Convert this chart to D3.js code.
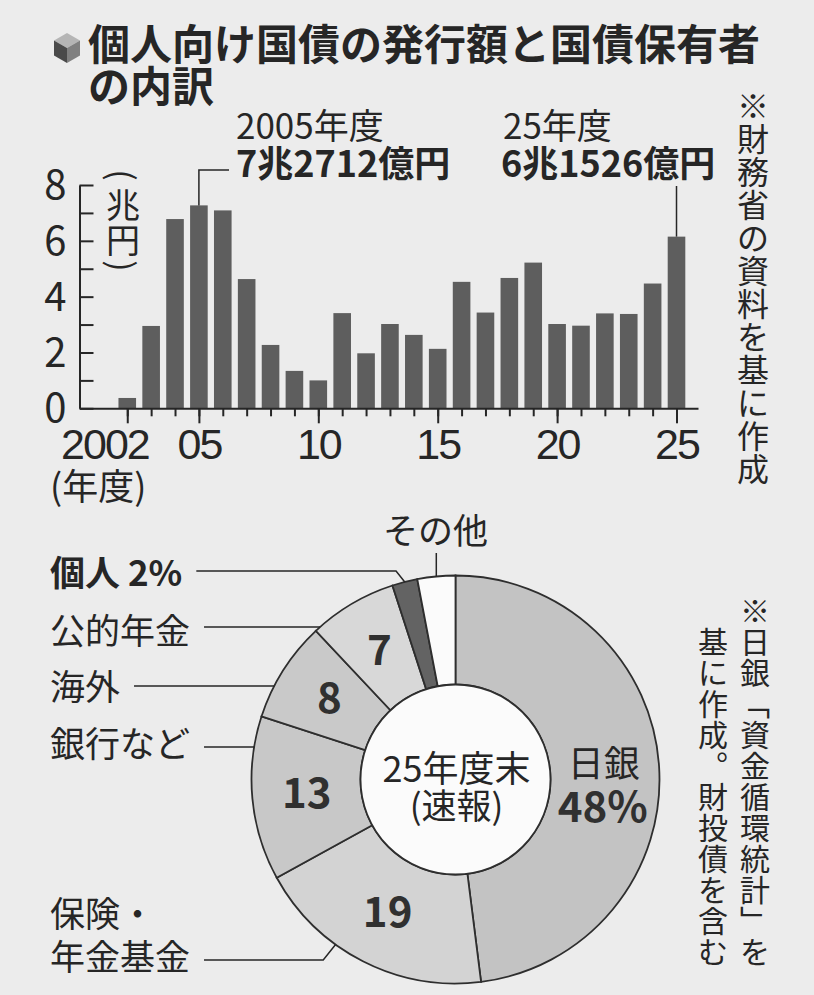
<!DOCTYPE html>
<html>
<head>
<meta charset="utf-8">
<script src="https://cdn.jsdelivr.net/npm/d3@7"></script>
<style>
  html, body { margin: 0; padding: 0; background: #ececec; }
  svg { display: block; font-family: "Noto Sans CJK JP", "Noto Sans", sans-serif; }
</style>
</head>
<body>
<svg id="chart" width="814" height="995"></svg>
<script>
// issuance of retail JGBs per fiscal year (trillion yen)
const years = [2002, 2003, 2004, 2005, 2006, 2007, 2008, 2009, 2010, 2011, 2012, 2013,
               2014, 2015, 2016, 2017, 2018, 2019, 2020, 2021, 2022, 2023, 2024, 2025];
const issuance = [0.37, 2.95, 6.78, 7.27, 7.09, 4.63, 2.27, 1.34, 1.00, 3.41, 1.97, 3.02,
                  2.63, 2.13, 4.53, 3.43, 4.67, 5.22, 3.02, 2.96, 3.40, 3.38, 4.47, 6.15];
const yTicks = [0, 1, 2, 3, 4, 5, 6, 7, 8];
const yLabelTicks = [0, 2, 4, 6, 8];
const majorYears = [2002, 2005, 2010, 2015, 2020, 2025];
const majorLabels = ["2002", "05", "10", "15", "20", "25"];

// holders of JGBs, end of FY2025 (%)
const holderNames = ["日銀", "保険・年金基金", "銀行など", "海外", "公的年金", "個人", "その他"];
const holderShares = [48, 19, 13, 8, 7, 2, 3];
const holderFills = ["#c3c3c3", "#d3d3d3", "#c8c8c8", "#c9c9c9", "#d8d8d8", "#636363", "#fbfbfb"];

const ink = "#262626";
const svg = d3.select("#chart");

// ---- title ----
let icon = svg.append("g").attr("transform", "translate(67,48)");
const s = 15, h = 7.5, w = 13;
icon.append("path").attr("d", `M0,${-s} L${w},${-h} L0,0 L${-w},${-h} Z`).attr("fill", "#b5b5b5");
icon.append("path").attr("d", `M${-w},${-h} L0,0 L0,${s} L${-w},${h} Z`).attr("fill", "#4a4a4a");
icon.append("path").attr("d", `M0,0 L${w},${-h} L${w},${h} L0,${s} Z`).attr("fill", "#808080");

svg.append("text").attr("x", 88).attr("y", 60)
    .style("font-size", "42px").style("font-weight", "bold").attr("fill", ink)
    .text("個人向け国債の発行額と国債保有者");
svg.append("text").attr("x", 88).attr("y", 102)
    .style("font-size", "42px").style("font-weight", "bold").attr("fill", ink)
    .text("の内訳");

// vertical text helper, one glyph per cell
function vtext(str, cx, top, step, size) {
    let g = svg.append("g");
    Array.from(str).forEach((ch, i) => {
        g.append("text")
            .attr("x", cx).attr("y", top + step * i + step / 2)
            .attr("text-anchor", "middle")
            .attr("dominant-baseline", "central")
            .style("font-size", size + "px")
            .attr("fill", ink)
            .text(ch);
    });
    return g;
}

// ---- bar chart ----
const x = d3.scaleLinear().domain([2000, 2025.9]).range([79.5, 698]);
const y = d3.scaleLinear().domain([0, 8]).range([408.3, 185]);

svg.selectAll("rect.bar")
    .data(years)
    .enter().append("rect")
    .attr("class", "bar")
    .attr("x", d => x(d) - 8.8)
    .attr("width", 17.6)
    .attr("y", (d, i) => y(issuance[i]))
    .attr("height", (d, i) => y(0) - y(issuance[i]))
    .attr("fill", "#5e5e5e");

// y axis: ticks point inward, labels only on even values
let yAxis = svg.append("g")
    .attr("transform", `translate(${x(2000)},0)`)
    .call(d3.axisLeft(y).tickValues(yTicks).tickSizeInner(-14).tickSizeOuter(0).tickPadding(13)
        .tickFormat(d => yLabelTicks.includes(d) ? d : ""));
yAxis.select(".domain").attr("stroke", ink).attr("stroke-width", 2);
yAxis.selectAll(".tick line").attr("stroke", ink).attr("stroke-width", 2);
yAxis.selectAll(".tick text")
    .attr("fill", ink)
    .style("font-size", "40px")
    .style("font-family", "'Noto Sans CJK JP', sans-serif")
    .attr("dy", "0.34em");

// x axis: minor ticks every year, longer ones at labelled years
let xMinor = svg.append("g")
    .attr("transform", `translate(0,${y(0)})`)
    .call(d3.axisBottom(x).tickValues(years).tickSize(8).tickSizeOuter(0).tickFormat(""));
xMinor.select(".domain").attr("stroke", ink).attr("stroke-width", 2);
xMinor.selectAll(".tick line").attr("stroke", ink).attr("stroke-width", 2);

let xMajor = svg.append("g")
    .attr("transform", `translate(0,${y(0)})`)
    .call(d3.axisBottom(x).tickValues(majorYears).tickSize(15)
        .tickFormat((d, i) => majorLabels[i]));
xMajor.select(".domain").remove();
xMajor.selectAll(".tick line").attr("stroke", ink).attr("stroke-width", 2);
xMajor.selectAll(".tick text")
    .attr("fill", ink)
    .attr("y", 51).attr("dy", 0)
    .style("font-size", "43px")
    .style("letter-spacing", "-2px")
    .attr("text-anchor", d => d === 2002 ? "end" : "middle")
    .attr("x", d => d === 2002 ? 21 : 0);

svg.append("text").attr("x", 50).attr("y", 500)
    .style("font-size", "36px").attr("fill", ink).text("(年度)");

// unit label (兆円) written vertically, parentheses turned sideways
vtext("兆円", 123, 186, 35, 34);
[["(", 175], [")", 266]].forEach(p => {
    svg.append("text")
        .attr("transform", `translate(123,${p[1]}) rotate(90)`)
        .attr("text-anchor", "middle")
        .attr("dominant-baseline", "central")
        .style("font-size", "34px")
        .attr("fill", ink)
        .text(p[0]);
});

// callouts for 2005 and 2025
const i05 = years.indexOf(2005), i25 = years.indexOf(2025);
svg.append("path")
    .attr("d", `M${x(2005)},${y(issuance[i05])} V170 H229`)
    .attr("fill", "none").attr("stroke", ink).attr("stroke-width", 1.5);
svg.append("path")
    .attr("d", `M${x(2025)},${y(issuance[i25])} V186`)
    .attr("fill", "none").attr("stroke", ink).attr("stroke-width", 1.5);

svg.append("text").attr("x", 236).attr("y", 139)
    .style("font-size", "35px").attr("fill", ink).text("2005年度");
svg.append("text").attr("x", 236).attr("y", 177)
    .style("font-size", "36px").style("font-weight", "bold").attr("fill", ink).text("7兆2712億円");
svg.append("text").attr("x", 503).attr("y", 139)
    .style("font-size", "35px").attr("fill", ink).text("25年度");
svg.append("text").attr("x", 501).attr("y", 177)
    .style("font-size", "36px").style("font-weight", "bold").attr("fill", ink).text("6兆1526億円");

vtext("※財務省の資料を基に作成", 753, 87, 33, 32);

// ---- donut ----
const cx = 455.5, cy = 779.5, R = 204, r = 95;
const pieData = d3.pie().sort(null).value(d => d)(holderShares);
const arc = d3.arc().innerRadius(r).outerRadius(R);
const labelArc = d3.arc().innerRadius((R + r) / 2).outerRadius((R + r) / 2);

let donut = svg.append("g").attr("transform", `translate(${cx},${cy})`);
donut.selectAll("path")
    .data(pieData)
    .enter().append("path")
    .attr("d", arc)
    .attr("fill", (d, i) => holderFills[i])
    .attr("stroke", "#2e2e2e")
    .attr("stroke-width", 1.8);
donut.append("circle").attr("r", r).attr("fill", "#fbfbfb").attr("stroke", "#2e2e2e").attr("stroke-width", 1.8);

// numbers inside the ring
const insideIdx = [1, 2, 3, 4];
donut.selectAll("text.num")
    .data(insideIdx.map(i => pieData[i]))
    .enter().append("text")
    .attr("class", "num")
    .attr("transform", d => "translate(" + labelArc.centroid(d) + ")")
    .attr("dy", 14)
    .attr("text-anchor", "middle")
    .style("font-size", "42px").style("font-weight", "bold")
    .attr("fill", "#303030")
    .text(d => d.data);

// 日銀 48%
const boj = labelArc.centroid(pieData[0]);
donut.append("text").attr("x", boj[0] - 1).attr("y", boj[1] + 7)
    .attr("text-anchor", "middle").style("font-size", "36px").attr("fill", ink)
    .text(holderNames[0]);
donut.append("text").attr("x", boj[0] - 2).attr("y", boj[1] + 52)
    .attr("text-anchor", "middle").style("font-size", "42px").style("font-weight", "bold").attr("fill", "#303030")
    .text(holderShares[0] + "%");

// centre
donut.append("text").attr("x", 1).attr("y", 2)
    .attr("text-anchor", "middle").style("font-size", "36px").attr("fill", ink).text("25年度末");
donut.append("text").attr("x", 1).attr("y", 39)
    .attr("text-anchor", "middle").style("font-size", "35px").attr("fill", ink).text("(速報)");

// outside labels with leader lines
function onRing(angleDeg) {
    const a = angleDeg * Math.PI / 180;
    return [cx + R * Math.sin(a), cy - R * Math.cos(a)];
}
function midDeg(d) { return (d.startAngle + d.endAngle) / 2 * 180 / Math.PI; }

const outside = [
    { idx: 5, lines: ["個人 2%"], base: [586], lineY: 571, bold: true, angle: midDeg(pieData[5]) },
    { idx: 4, lines: ["公的年金"], base: [644], lineY: 627 },
    { idx: 3, lines: ["海外"], base: [700], lineY: 686 },
    { idx: 2, lines: ["銀行など"], base: [757], lineY: 747 },
    { idx: 1, lines: ["保険・", "年金基金"], base: [927, 970], lineY: 960, angle: 216 }
];

outside.forEach(o => {
    let last;
    o.lines.forEach((t, k) => {
        last = svg.append("text").attr("x", 50).attr("y", o.base[k])
            .style("font-size", "35px")
            .style("font-weight", o.bold ? "bold" : "normal")
            .attr("fill", ink).text(t);
    });
    const x0 = 50 + last.node().getComputedTextLength() + 14;
    let d;
    if (o.angle !== undefined) {
        const p = onRing(o.angle);
        const dy = Math.abs(p[1] - o.lineY);
        d = `M${x0},${o.lineY} H${p[0] - dy * 0.8} L${p[0]},${p[1]}`;
    } else {
        const xe = cx - Math.sqrt(R * R - (o.lineY - cy) * (o.lineY - cy));
        d = `M${x0},${o.lineY} H${xe}`;
    }
    svg.append("path").attr("d", d).attr("fill", "none").attr("stroke", ink).attr("stroke-width", 1.5);
});

// その他
const pOther = onRing(midDeg(pieData[6]));
svg.append("text").attr("x", 383).attr("y", 544).style("font-size", "35px").attr("fill", ink).text(holderNames[6]);
svg.append("path").attr("d", `M${pOther[0]},553 V${pOther[1]}`)
    .attr("stroke", ink).attr("stroke-width", 1.5);

// note for the donut, two vertical columns
vtext("※日銀﹁資金循環統計﹂を", 755, 593, 31, 30);
vtext("基に作成︒財投債を含む", 713, 624, 31, 30);
</script>
</body>
</html>
